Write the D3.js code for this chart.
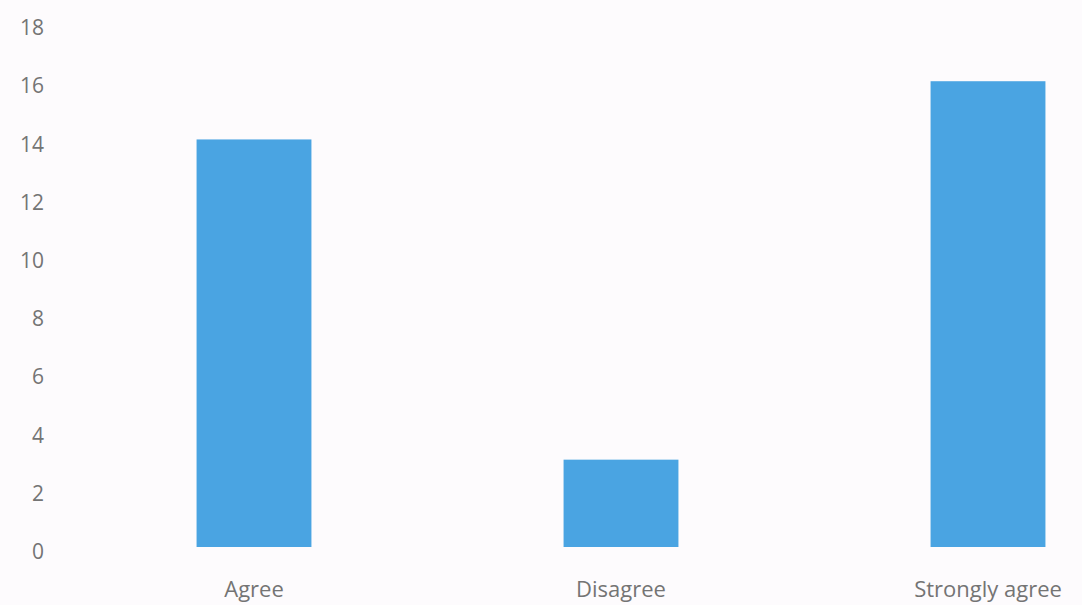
<!DOCTYPE html>
<html>
<head>
<meta charset="utf-8">
<script src="https://cdn.jsdelivr.net/npm/d3@7"></script>
<style>
  html, body { margin: 0; padding: 0; background: #fdfbfd; }
  svg { display: block; }
  .tick text { font-family: 'Open Sans', sans-serif; fill: #747474; }
</style>
</head>
<body>
<svg id="chart" width="1082" height="605"></svg>
<script>
const categories = ['Agree', 'Disagree', 'Strongly agree']
const counts = [14, 3, 16]
const yTicks = [0, 2, 4, 6, 8, 10, 12, 14, 16, 18]

const svg = d3.select('#chart')

const x = d3
  .scaleBand()
  .domain(categories)
  .range([70.5, 1171.5])
  .paddingInner(0.687)
  .paddingOuter(0.3435)

const y = d3.scaleLinear().domain([0, 18]).range([547, 23])

// y axis: labels only, no line or ticks
svg
  .append('g')
  .attr('class', 'y-axis')
  .attr('transform', 'translate(46, 0)')
  .call(d3.axisLeft(y).tickValues(yTicks).tickSize(0).tickPadding(2))
  .call((g) => g.select('.domain').remove())
  .selectAll('text')
  .attr('dy', '0.55em')
  .style('font-size', '21px')

svg
  .selectAll('.bar')
  .data(categories)
  .enter()
  .append('rect')
  .attr('class', 'bar')
  .style('fill', '#4aa4e2')
  .attr('x', (d) => x(d))
  .attr('y', (d, i) => y(counts[i]))
  .attr('width', x.bandwidth())
  .attr('height', (d, i) => y(0) - y(counts[i]))

svg
  .append('g')
  .attr('class', 'x-axis')
  .attr('transform', `translate(0, ${y(0)})`)
  .call(d3.axisBottom(x).tickSize(0).tickPadding(34))
  .call((g) => g.select('.domain').remove())
  .selectAll('text')
  .style('font-size', '22px')
</script>
</body>
</html>
